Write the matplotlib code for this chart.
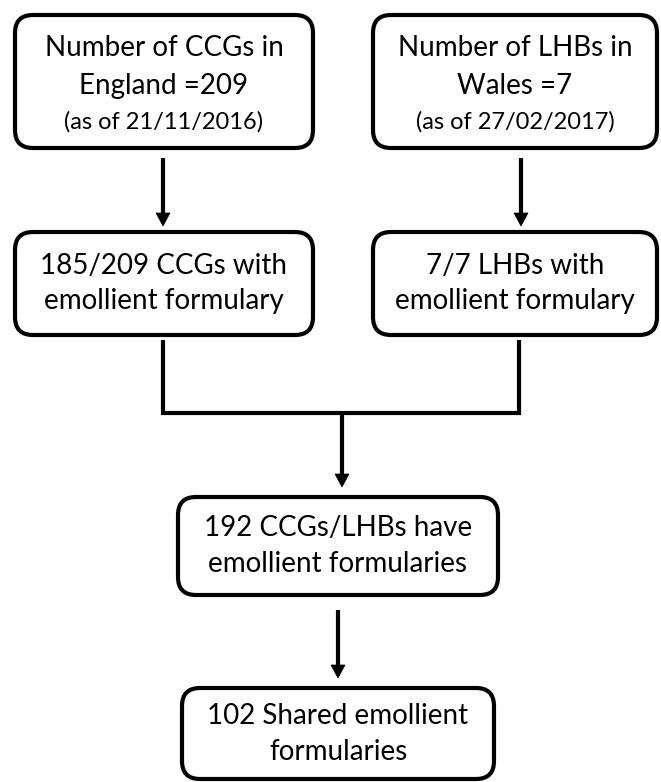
import matplotlib
matplotlib.use("Agg")
import matplotlib.pyplot as plt
from matplotlib.patches import FancyBboxPatch, Polygon

# ---- content ----
box_main_lines = [
    ["Number of CCGs in", "England =209"],
    ["Number of LHBs in", "Wales =7"],
    ["185/209 CCGs with", "emollient formulary"],
    ["7/7 LHBs with", "emollient formulary"],
    ["192 CCGs/LHBs have", "emollient formularies"],
    ["102 Shared emollient", "formularies"],
]
box_sub_lines = [
    "(as of 21/11/2016)",
    "(as of 27/02/2017)",
    None, None, None, None,
]

# ---- layout (pixel coordinates: x0, y0, x1, y1) ----
W, H = 661, 782
boxes = [
    (15, 15, 313, 148),
    (373, 15, 657, 148),
    (15, 232, 313, 335),
    (373, 232, 657, 335),
    (178, 497, 498, 595),
    (182, 688, 494, 779),
]

plt.rcParams['font.family'] = ['Lato', 'DejaVu Sans']
fig = plt.figure(figsize=(W / 100, H / 100), dpi=100)
ax = fig.add_axes([0, 0, 1, 1])
ax.set_xlim(0, W)
ax.set_ylim(H, 0)
ax.axis('off')

LW = 3.0
FS = 20
for (x0, y0, x1, y1), main, sub in zip(boxes, box_main_lines, box_sub_lines):
    r = 18
    p = FancyBboxPatch((x0 + r, y0 + r), (x1 - x0) - 2 * r, (y1 - y0) - 2 * r,
                       boxstyle=f"round,pad={r}", fc='white', ec='black', lw=LW)
    ax.add_patch(p)
    cx = (x0 + x1) / 2
    if sub:
        ax.text(cx, y0 + 33, main[0], ha='center', va='center', fontsize=FS)
        ax.text(cx, y0 + 71, main[1], ha='center', va='center', fontsize=FS)
        ax.text(cx, y0 + 107, sub, ha='center', va='center', fontsize=17)
    else:
        cy = (y0 + y1) / 2
        ax.text(cx, cy - 18, main[0], ha='center', va='center', fontsize=FS)
        ax.text(cx, cy + 18, main[1], ha='center', va='center', fontsize=FS)


def arrow(x, y0, y1):
    head_len, head_w = 13, 7
    ax.plot([x, x], [y0, y1 - head_len + 1], color='black', lw=LW, solid_capstyle='butt')
    ax.add_patch(Polygon([(x - head_w, y1 - head_len), (x + head_w, y1 - head_len), (x, y1)],
                         closed=True, fc='black', ec='black', lw=0.5))


arrow(163, 158, 226)
arrow(521, 158, 226)
# connector
ax.plot([163, 163, 519, 519], [340, 413, 413, 340], color='black', lw=LW,
        solid_joinstyle='miter', solid_capstyle='butt')
arrow(342, 413, 487)
arrow(338, 610, 678)

fig.savefig('out.png', dpi=100, facecolor='white')
